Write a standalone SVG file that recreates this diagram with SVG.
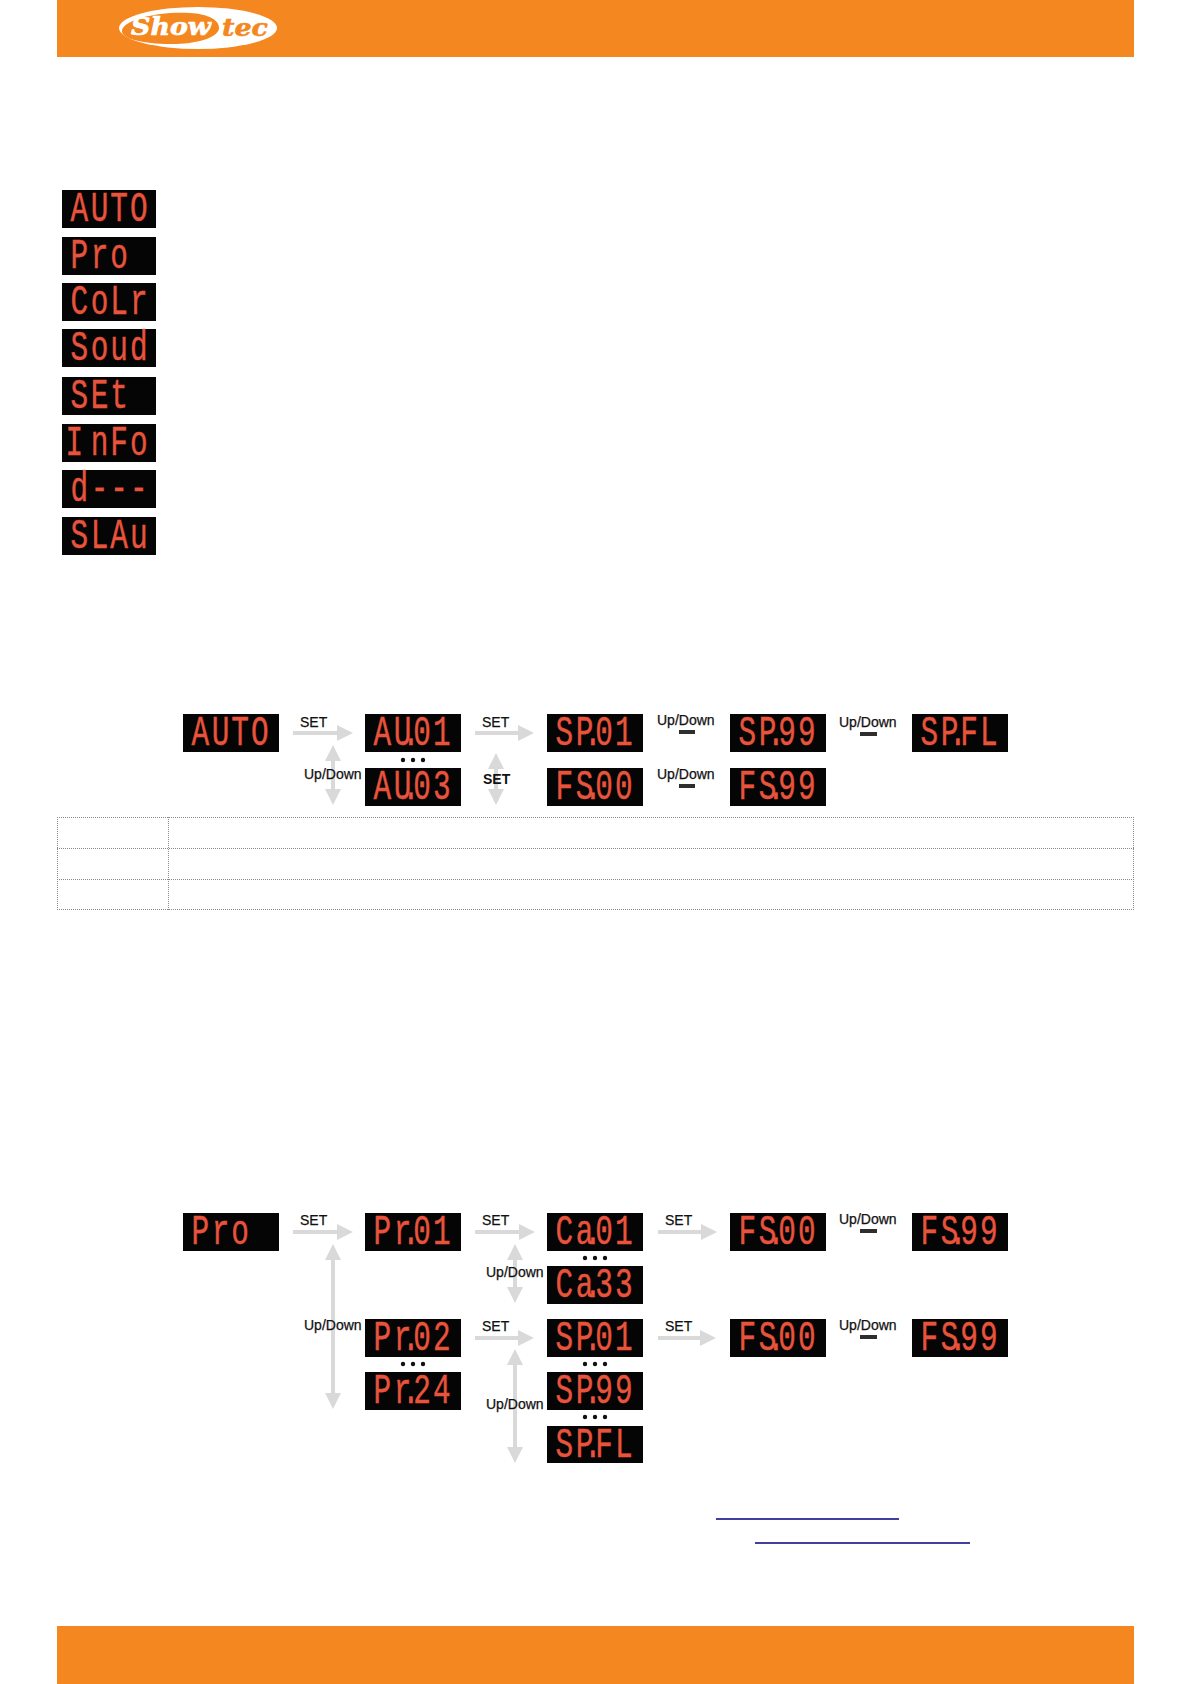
<svg xmlns="http://www.w3.org/2000/svg" width="1191" height="1684" viewBox="0 0 1191 1684">
<style>
.band{fill:#f58720}
.disp{fill:#050505}
.seg{font:42px "Liberation Mono",monospace;fill:#e8533c;stroke:#e8533c;stroke-width:.4;transform:scale(.7,1)}
.lab{font:14px "Liberation Sans",Arial,sans-serif;fill:#111;stroke:#111;stroke-width:.25}
.labb{font:bold 14px "Liberation Sans",Arial,sans-serif;fill:#111}
.cn{stroke:#d9d9d9;stroke-width:4;fill:none;marker-end:url(#ah)}
.cd{stroke:#d9d9d9;stroke-width:4;fill:none;marker-end:url(#ah);marker-start:url(#ah)}
.bar{fill:#2e2e2e}
.dots{fill:#111}
.tb{fill:none;stroke:#8a8a8a;stroke-width:1;stroke-dasharray:1 1}
.lnk{stroke:#000080;stroke-width:1.3}
</style>
<defs>
<marker id="ah" viewBox="0 0 16 16" markerUnits="userSpaceOnUse" markerWidth="16" markerHeight="16" refX="6" refY="8" orient="auto-start-reverse"><path d="M0 0L16 8L0 16Z" fill="#d9d9d9"/></marker>
</defs>

<g id="header"><rect class="band" x="57" y="0" width="1077" height="57"/>
<ellipse cx="198" cy="28" rx="79" ry="21" fill="#fff"/>
<path d="M122 30C125 19 160 11 190 13C208 14 220 20 219 29C217 38 195 45 165 44C140 43 120 38 122 30Z" fill="#f58720"/>
<text x="131" y="35" style="font:italic bold 25px 'DejaVu Serif',serif;fill:#fff;stroke:#fff;stroke-width:.7" textLength="80" lengthAdjust="spacingAndGlyphs">Show</text>
<text x="222" y="36" style="font:italic bold 24px 'DejaVu Serif',serif;fill:#f58720;stroke:#f58720;stroke-width:.5" textLength="46" lengthAdjust="spacingAndGlyphs">tec</text>
</g>
<g id="footer"><rect class="band" x="57" y="1626" width="1077" height="58"/></g>

<g id="legend-auto" transform="translate(62 190)"><rect class="disp" width="94" height="38"/><text class="seg" x="12 41 69 97" y="31">AUTO</text></g>
<g id="legend-pro" transform="translate(62 237)"><rect class="disp" width="94" height="38"/><text class="seg" x="12 41 69" y="31">Pro</text></g>
<g id="legend-colr" transform="translate(62 283)"><rect class="disp" width="94" height="38"/><text class="seg" x="12 41 69 97" y="31">CoLr</text></g>
<g id="legend-soud" transform="translate(62 329)"><rect class="disp" width="94" height="38"/><text class="seg" x="12 41 69 97" y="31">Soud</text></g>
<g id="legend-set" transform="translate(62 377)"><rect class="disp" width="94" height="38"/><text class="seg" x="12 41 69" y="31">SEt</text></g>
<g id="legend-info" transform="translate(62 424)"><rect class="disp" width="94" height="38"/><text class="seg" x="5 41 69 97" y="31">InFo</text></g>
<g id="legend-d" transform="translate(62 470)"><rect class="disp" width="94" height="38"/><text class="seg" x="12 41 69 97" y="31">d---</text></g>
<g id="legend-slav" transform="translate(62 517)"><rect class="disp" width="94" height="38"/><text class="seg" x="12 41 69 97" y="31">SLAu</text></g>

<g id="a-auto" transform="translate(183 714)"><rect class="disp" width="96" height="38"/><text class="seg" x="12 41 69 97" y="31">AUTO</text></g>
<g id="a-au01" transform="translate(365 714)"><rect class="disp" width="96" height="38"/><text class="seg" x="12 41 53 69 97" y="31">AU.01</text></g>
<g id="a-sp01" transform="translate(547 714)"><rect class="disp" width="96" height="38"/><text class="seg" x="12 41 53 69 97" y="31">SP.01</text></g>
<g id="a-sp99" transform="translate(730 714)"><rect class="disp" width="96" height="38"/><text class="seg" x="12 41 53 69 97" y="31">SP.99</text></g>
<g id="a-spfl" transform="translate(912 714)"><rect class="disp" width="96" height="38"/><text class="seg" x="12 41 53 69 97" y="31">SP.FL</text></g>
<g id="a-au03" transform="translate(365 768)"><rect class="disp" width="96" height="38"/><text class="seg" x="12 41 53 69 97" y="31">AU.03</text></g>
<g id="a-fs00" transform="translate(547 768)"><rect class="disp" width="96" height="38"/><text class="seg" x="12 41 53 69 97" y="31">FS.00</text></g>
<g id="a-fs99" transform="translate(730 768)"><rect class="disp" width="96" height="38"/><text class="seg" x="12 41 53 69 97" y="31">FS.99</text></g>

<g id="b-pro" transform="translate(183 1213)"><rect class="disp" width="96" height="38"/><text class="seg" x="12 41 69" y="31">Pro</text></g>
<g id="b-pr01" transform="translate(365 1213)"><rect class="disp" width="96" height="38"/><text class="seg" x="12 41 53 69 97" y="31">Pr.01</text></g>
<g id="b-ca01" transform="translate(547 1213)"><rect class="disp" width="96" height="38"/><text class="seg" x="12 41 53 69 97" y="31">Ca.01</text></g>
<g id="b-fs00" transform="translate(730 1213)"><rect class="disp" width="96" height="38"/><text class="seg" x="12 41 53 69 97" y="31">FS.00</text></g>
<g id="b-fs99" transform="translate(912 1213)"><rect class="disp" width="96" height="38"/><text class="seg" x="12 41 53 69 97" y="31">FS.99</text></g>
<g id="b-ca33" transform="translate(547 1266)"><rect class="disp" width="96" height="38"/><text class="seg" x="12 41 53 69 97" y="31">Ca.33</text></g>
<g id="b-pr02" transform="translate(365 1319)"><rect class="disp" width="96" height="38"/><text class="seg" x="12 41 53 69 97" y="31">Pr.02</text></g>
<g id="b-sp01" transform="translate(547 1319)"><rect class="disp" width="96" height="38"/><text class="seg" x="12 41 53 69 97" y="31">SP.01</text></g>
<g id="b-fs00b" transform="translate(730 1319)"><rect class="disp" width="96" height="38"/><text class="seg" x="12 41 53 69 97" y="31">FS.00</text></g>
<g id="b-fs99b" transform="translate(912 1319)"><rect class="disp" width="96" height="38"/><text class="seg" x="12 41 53 69 97" y="31">FS.99</text></g>
<g id="b-pr24" transform="translate(365 1372)"><rect class="disp" width="96" height="38"/><text class="seg" x="12 41 53 69 97" y="31">Pr.24</text></g>
<g id="b-sp99" transform="translate(547 1372)"><rect class="disp" width="96" height="38"/><text class="seg" x="12 41 53 69 97" y="31">SP.99</text></g>
<g id="b-spfl" transform="translate(547 1426)"><rect class="disp" width="96" height="37"/><text class="seg" x="12 41 53 69 97" y="31">SP.FL</text></g>

<g id="connectors">
<line class="cn" x1="293" y1="733" x2="343" y2="733"/>
<line class="cn" x1="475" y1="733" x2="524" y2="733"/>
<line class="cd" x1="333" y1="755" x2="333" y2="795"/>
<line class="cd" x1="496" y1="763" x2="496" y2="795"/>
<line class="cn" x1="293" y1="1232" x2="343" y2="1232"/>
<line class="cn" x1="475" y1="1232" x2="525" y2="1232"/>
<line class="cn" x1="658" y1="1232" x2="707" y2="1232"/>
<line class="cd" x1="333" y1="1254" x2="333" y2="1399"/>
<line class="cd" x1="515" y1="1254" x2="515" y2="1293"/>
<line class="cn" x1="475" y1="1338" x2="524" y2="1338"/>
<line class="cn" x1="658" y1="1338" x2="706" y2="1338"/>
<line class="cd" x1="515" y1="1359" x2="515" y2="1453"/>
<rect class="bar" x="679" y="730" width="16" height="4"/>
<rect class="bar" x="860" y="732" width="17" height="4"/>
<rect class="bar" x="679" y="784" width="16" height="4"/>
<rect class="bar" x="860" y="1229" width="17" height="4"/>
<rect class="bar" x="860" y="1335" width="17" height="4"/>
</g>

<g id="labels">
<text class="lab" x="300" y="727">SET</text>
<text class="lab" x="482" y="727">SET</text>
<text class="labb" x="483" y="784">SET</text>
<text class="lab" x="304" y="779">Up/Down</text>
<text class="lab" x="657" y="725">Up/Down</text>
<text class="lab" x="839" y="727">Up/Down</text>
<text class="lab" x="657" y="779">Up/Down</text>
<text class="lab" x="300" y="1225">SET</text>
<text class="lab" x="482" y="1225">SET</text>
<text class="lab" x="665" y="1225">SET</text>
<text class="lab" x="839" y="1224">Up/Down</text>
<text class="lab" x="486" y="1277">Up/Down</text>
<text class="lab" x="304" y="1330">Up/Down</text>
<text class="lab" x="482" y="1331">SET</text>
<text class="lab" x="665" y="1331">SET</text>
<text class="lab" x="839" y="1330">Up/Down</text>
<text class="lab" x="486" y="1409">Up/Down</text>
</g>

<g id="ellipses" class="dots">
<circle cx="403" cy="760" r="2.2"/><circle cx="413" cy="760" r="2.2"/><circle cx="423" cy="760" r="2.2"/>
<circle cx="585" cy="1258" r="2.2"/><circle cx="595" cy="1258" r="2.2"/><circle cx="605" cy="1258" r="2.2"/>
<circle cx="403" cy="1364" r="2.2"/><circle cx="413" cy="1364" r="2.2"/><circle cx="423" cy="1364" r="2.2"/>
<circle cx="585" cy="1364" r="2.2"/><circle cx="595" cy="1364" r="2.2"/><circle cx="605" cy="1364" r="2.2"/>
<circle cx="585" cy="1417" r="2.2"/><circle cx="595" cy="1417" r="2.2"/><circle cx="605" cy="1417" r="2.2"/>
</g>

<g id="table">
<line class="tb" x1="57" y1="817.500" x2="1134" y2="817.500"/>
<line class="tb" x1="57" y1="848.500" x2="1134" y2="848.500"/>
<line class="tb" x1="57" y1="879.500" x2="1134" y2="879.500"/>
<line class="tb" x1="57" y1="909.500" x2="1134" y2="909.500"/>
<line class="tb" x1="57.500" y1="817" x2="57.500" y2="910"/>
<line class="tb" x1="168.500" y1="817" x2="168.500" y2="910"/>
<line class="tb" x1="1133.500" y1="817" x2="1133.500" y2="910"/>
</g>

<g id="links">
<line class="lnk" x1="716" y1="1519" x2="899" y2="1519"/>
<line class="lnk" x1="755" y1="1543" x2="970" y2="1543"/>
</g>
</svg>
